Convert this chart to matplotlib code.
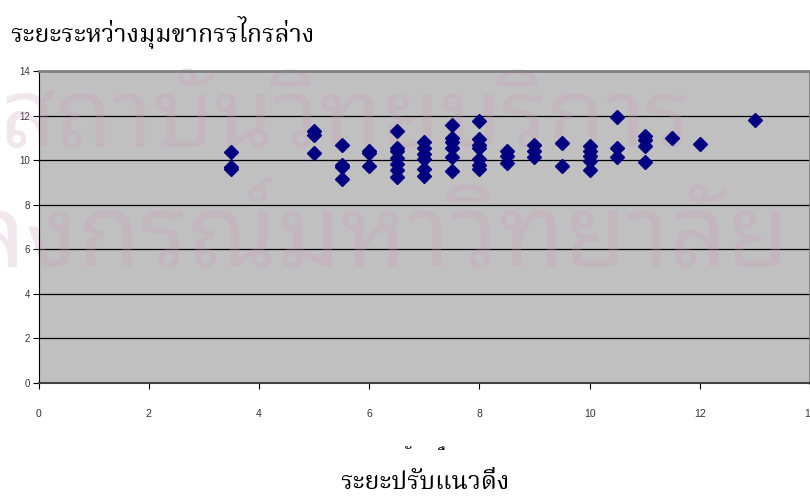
import matplotlib
matplotlib.use("Agg")
import matplotlib.pyplot as plt
from matplotlib import font_manager
from matplotlib.ft2font import FT2Font

# Vertical adjustment (x) vs. distance between lower-jaw angles (y)
x_vals = [3.5, 3.5, 3.5,
          5, 5, 5,
          5.5, 5.5, 5.5, 5.5,
          6, 6, 6,
          6.5, 6.5, 6.5, 6.5, 6.5, 6.5, 6.5,
          7, 7, 7, 7, 7, 7,
          7.5, 7.5, 7.5, 7.5, 7.5, 7.5,
          8, 8, 8, 8, 8, 8, 8,
          8.5, 8.5, 8.5,
          9, 9, 9,
          9.5, 9.5,
          10, 10, 10, 10, 10,
          10.5, 10.5, 10.5,
          11, 11, 11, 11,
          11.5, 12, 13]
y_vals = [10.35, 9.7, 9.6,
          11.3, 11.15, 10.3,
          10.68, 9.8, 9.68, 9.15,
          10.41, 10.3, 9.75,
          11.3, 10.55, 10.4, 10.1, 9.82, 9.55, 9.25,
          10.8, 10.55, 10.27, 10.05, 9.6, 9.3,
          11.57, 11.0, 10.8, 10.55, 10.12, 9.53,
          11.75, 10.93, 10.7, 10.55, 10.05, 9.8, 9.6,
          10.41, 10.19, 9.85,
          10.68, 10.41, 10.15,
          10.76, 9.75,
          10.64, 10.41, 10.19, 9.97, 9.57,
          11.93, 10.56, 10.12,
          11.1, 10.9, 10.64, 9.9,
          11.0, 10.71, 11.78]

x_ticks = [0, 2, 4, 6, 8, 10, 12, 14]
y_ticks = [0, 2, 4, 6, 8, 10, 12, 14]

title_text = "ระยะระหว่างมุมขากรรไกรล่าง"
xlabel_text = "ระยะปรับแนวดิ่ง"
stray_marks = ["ั", "ี่"]
watermark_top = "สถาบันวิทยบริการ"
watermark_bottom = "จุฬาลงกรณ์มหาวิทยาลัย"


def thai_fonts():
    found = []
    for f in font_manager.fontManager.ttflist:
        try:
            cmap = FT2Font(f.fname).get_charmap()
        except Exception:
            continue
        if ord("ร") in cmap and ord("่") in cmap and f.name not in found:
            found.append(f.name)
    return found


def pick(found, prefs):
    for p in prefs:
        if p in found:
            return p
    return found[0] if found else "DejaVu Sans"


found = thai_fonts()
thai_serif = pick(found, ["Noto Serif Thai", "Noto Serif", "Tlwg Typo", "Loma",
                          "Noto Sans Thai", "Noto Sans", "DejaVu Serif"])
thai_sans = pick(found, ["Noto Sans Thai Looped", "Loma", "Garuda", "Norasi",
                         "Noto Sans Thai", "Noto Sans", "DejaVu Sans"])

fig = plt.figure(figsize=(8.1, 4.98), dpi=100)
ax = fig.add_axes([38.5 / 810, 1 - 383 / 498, 1 - 38.5 / 810, (383 - 71) / 498])
ax.set_facecolor("#C0C0C0")

ax.plot(x_vals, y_vals, linestyle="none", marker="D", ms=7.2,
        color="#000080", zorder=3)

ax.set_xlim(0, 14)
ax.set_ylim(0, 14)
ax.set_xticks(x_ticks)
ax.set_yticks(y_ticks)
ax.grid(axis="y", color="black", linewidth=0.9, zorder=1)
ax.set_axisbelow(True)

for side in ("top", "right"):
    ax.spines[side].set_color("#808080")
    ax.spines[side].set_linewidth(2)
ax.spines["left"].set_color("black")
ax.spines["bottom"].set_color("#404040")
ax.spines["bottom"].set_linewidth(1.5)

ax.tick_params(axis="y", direction="out", length=4, width=0.8,
               labelsize=7, labelcolor="#333333", pad=2)
ax.tick_params(axis="x", direction="out", length=4, width=0.8,
               labelsize=7.5, labelcolor="#333333", pad=15)
for lab in ax.get_yticklabels():
    lab.set_family("Liberation Sans")
for lab in ax.get_xticklabels():
    lab.set_family(["Liberation Sans Narrow", "Liberation Sans"])

# faint library watermark behind the markers
wm_color = (0.80, 0.62, 0.72, 0.25)
renderer = fig.canvas.get_renderer()
wm1 = ax.text(0 / 810, 1 - 147 / 498, watermark_top, transform=fig.transFigure,
              family=[thai_sans, "DejaVu Sans"], fontsize=60, color=wm_color,
              ha="left", va="baseline", zorder=2, clip_on=False)
w = wm1.get_window_extent(renderer).width
fs_top = 60 * 690 / w
wm1.set_fontsize(fs_top)
wm2 = ax.text(790 / 810, 1 - 267 / 498, watermark_bottom, transform=fig.transFigure,
              family=[thai_sans, "DejaVu Sans"], fontsize=fs_top * 1.06,
              color=wm_color, ha="right", va="baseline", zorder=2, clip_on=False)

fig.text(10 / 810, 1 - 32 / 498, title_text, family=[thai_serif, "DejaVu Sans"],
         fontsize=18, ha="left", va="center", color="black")
fig.text(425 / 810, 1 - 482 / 498, xlabel_text, family=[thai_serif, "DejaVu Sans"],
         fontsize=18, ha="center", va="center", color="black")
fig.text(410 / 810, 1 - 456 / 498, stray_marks[0], family=[thai_serif, "DejaVu Sans"],
         fontsize=11, ha="center", va="center", color="black")
fig.text(446 / 810, 1 - 456 / 498, stray_marks[1], family=[thai_serif, "DejaVu Sans"],
         fontsize=11, ha="center", va="center", color="black")

fig.savefig("out.png", dpi=100)
